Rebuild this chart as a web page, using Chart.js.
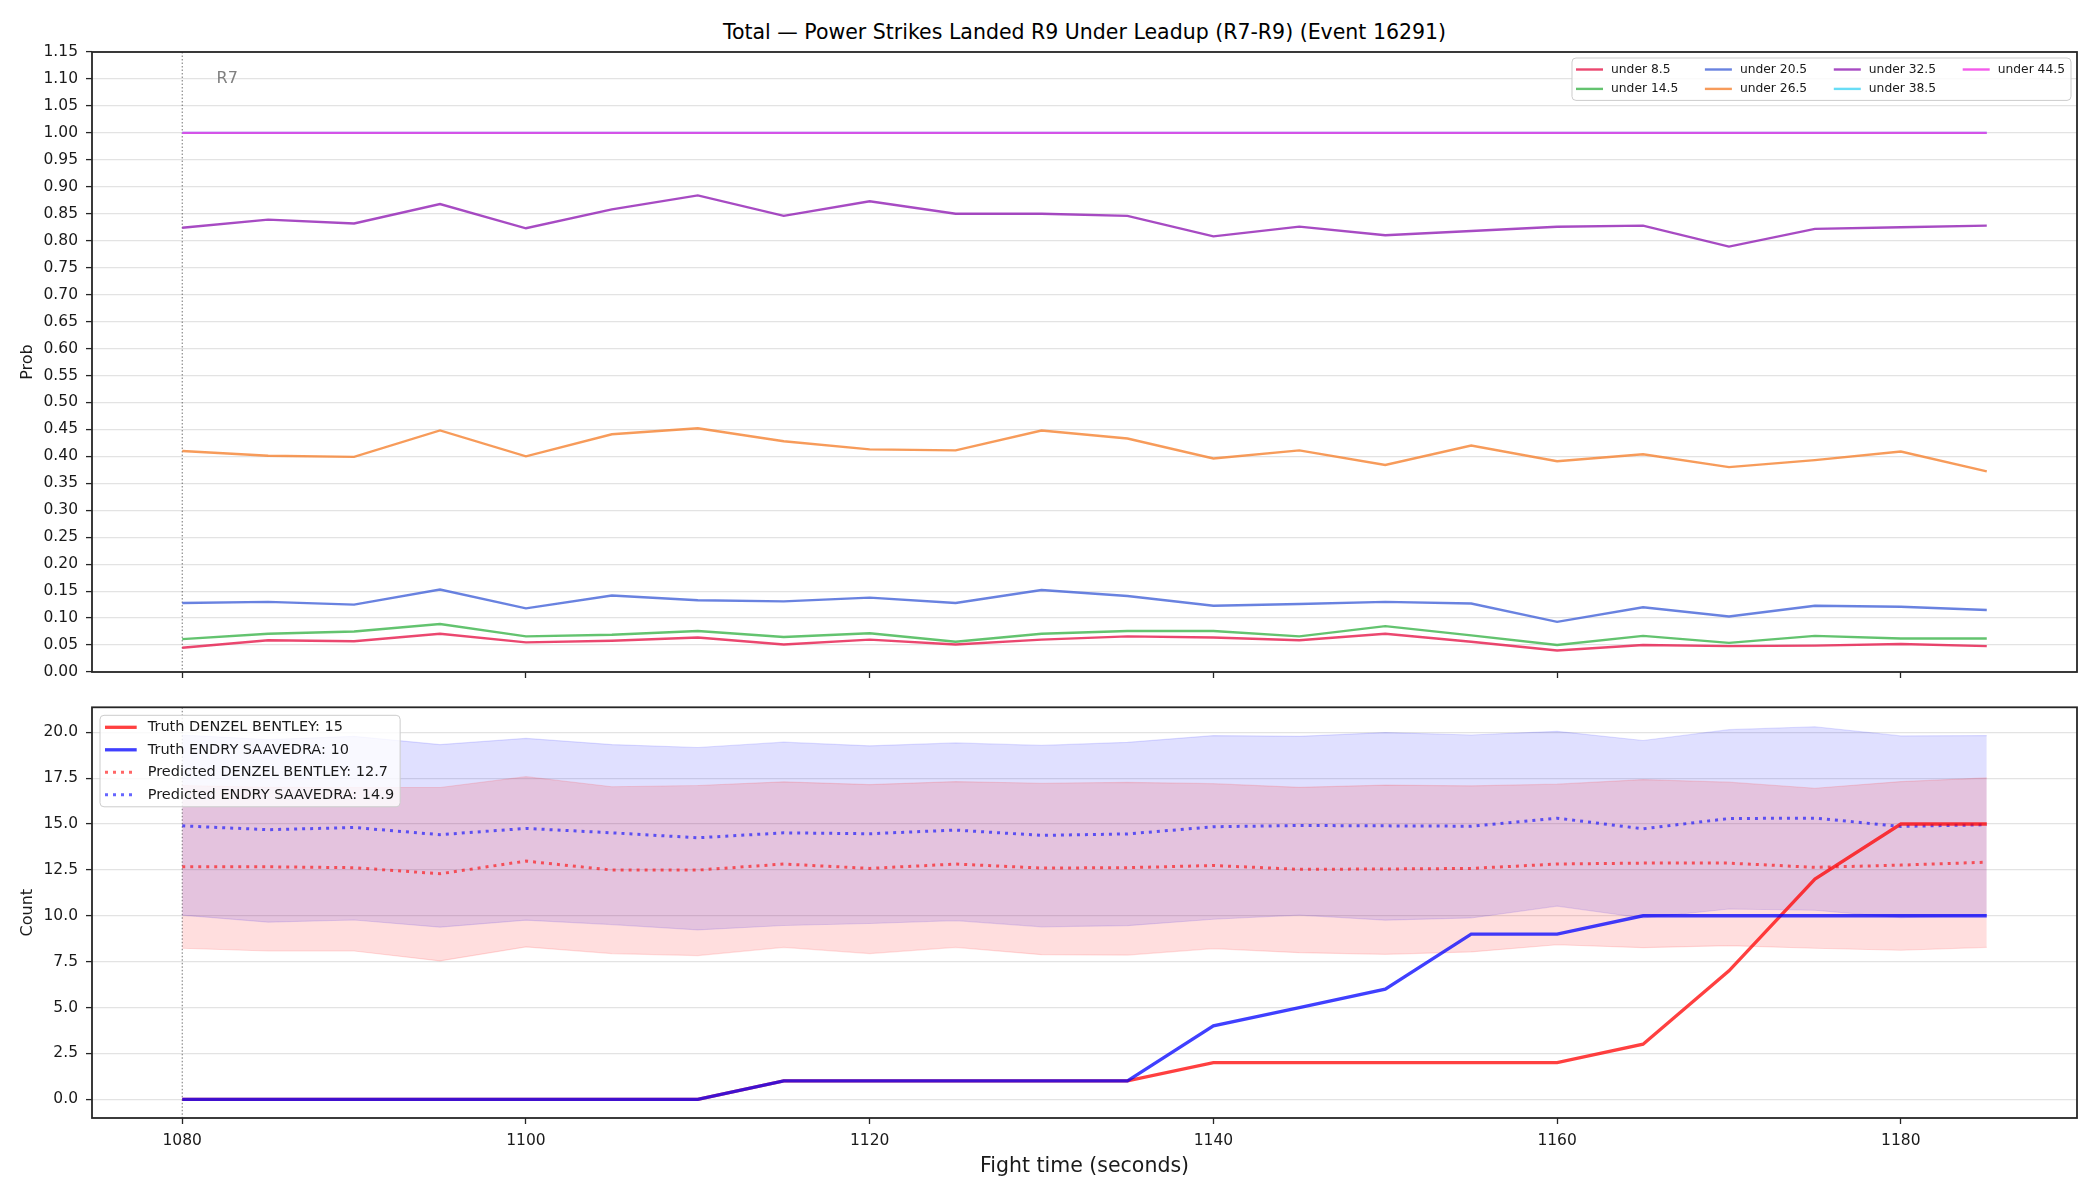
<!DOCTYPE html>
<html>
<head>
<meta charset="utf-8">
<script src="https://cdn.jsdelivr.net/npm/chart.js@4.4.1/dist/chart.umd.min.js"></script>
<style>
  html, body { margin: 0; padding: 0; background: #fff; }
  #page { position: relative; width: 2100px; height: 1200px; overflow: hidden; font-family: "DejaVu Sans", sans-serif; }
  #title { position: absolute; left: 92px; width: 1985px; top: 19px; text-align: center; font-size: 20.5px; line-height: 26px; color: #000; }
  canvas { position: absolute; left: 0; }
</style>
</head>
<body>
<div id="page">
  <div id="title">Total — Power Strikes Landed R9 Under Leadup (R7-R9) (Event 16291)</div>
  <canvas id="probChart" width="2100" height="690" style="top:0"></canvas>
  <canvas id="countChart" width="2100" height="510" style="top:690px"></canvas>
</div>
<script>
// fight time of each sample (seconds)
const timeSec = [1080, 1085, 1090, 1095, 1100, 1105, 1110, 1115, 1120, 1125, 1130,
                 1135, 1140, 1145, 1150, 1155, 1160, 1165, 1170, 1175, 1180, 1185];

// top panel: probability of the total staying under each line
const probLabels = ['under 8.5', 'under 14.5', 'under 20.5', 'under 26.5', 'under 32.5', 'under 38.5', 'under 44.5'];
const under8_5  = [0.045, 0.059, 0.057, 0.071, 0.055, 0.058, 0.064, 0.051, 0.060, 0.051, 0.060,
                   0.066, 0.064, 0.059, 0.071, 0.056, 0.040, 0.050, 0.048, 0.049, 0.052, 0.048];
const under14_5 = [0.061, 0.071, 0.075, 0.089, 0.066, 0.069, 0.076, 0.065, 0.072, 0.056, 0.071,
                   0.076, 0.076, 0.066, 0.085, 0.068, 0.050, 0.067, 0.054, 0.067, 0.062, 0.062];
const under20_5 = [0.128, 0.130, 0.125, 0.153, 0.118, 0.142, 0.133, 0.131, 0.138, 0.128, 0.152,
                   0.141, 0.123, 0.126, 0.130, 0.127, 0.093, 0.120, 0.103, 0.123, 0.121, 0.115];
const under26_5 = [0.410, 0.401, 0.399, 0.448, 0.400, 0.441, 0.452, 0.428, 0.413, 0.411, 0.448,
                   0.433, 0.396, 0.411, 0.384, 0.420, 0.391, 0.404, 0.380, 0.393, 0.409, 0.372];
const under32_5 = [0.824, 0.839, 0.832, 0.868, 0.823, 0.858, 0.884, 0.846, 0.873, 0.850, 0.850,
                   0.846, 0.808, 0.826, 0.810, 0.818, 0.826, 0.828, 0.789, 0.822, 0.825, 0.828];
const under38_5 = [1.0, 1.0, 1.0, 1.0, 1.0, 1.0, 1.0, 1.0, 1.0, 1.0, 1.0,
                   1.0, 1.0, 1.0, 1.0, 1.0, 1.0, 1.0, 1.0, 1.0, 1.0, 1.0];
const under44_5 = [1.0, 1.0, 1.0, 1.0, 1.0, 1.0, 1.0, 1.0, 1.0, 1.0, 1.0,
                   1.0, 1.0, 1.0, 1.0, 1.0, 1.0, 1.0, 1.0, 1.0, 1.0, 1.0];

// bottom panel: running counts, predictions and their bands
const countLabels = ['Truth DENZEL BENTLEY: 15', 'Truth ENDRY SAAVEDRA: 10',
                     'Predicted DENZEL BENTLEY: 12.7', 'Predicted ENDRY SAAVEDRA: 14.9'];
const truthBentley  = [0, 0, 0, 0, 0, 0, 0, 1, 1, 1, 1, 1, 2, 2, 2, 2, 2, 3, 7, 12, 15, 15];
const truthSaavedra = [0, 0, 0, 0, 0, 0, 0, 1, 1, 1, 1, 1, 4, 5, 6, 9, 9, 10, 10, 10, 10, 10];
const predBentley   = [12.67, 12.67, 12.62, 12.29, 12.98, 12.49, 12.49, 12.82, 12.58, 12.82, 12.60,
                       12.62, 12.74, 12.53, 12.55, 12.58, 12.82, 12.87, 12.87, 12.64, 12.76, 12.92];
const predSaavedra  = [14.90, 14.69, 14.81, 14.42, 14.76, 14.52, 14.25, 14.52, 14.47, 14.67, 14.38,
                       14.46, 14.85, 14.92, 14.90, 14.88, 15.32, 14.74, 15.30, 15.32, 14.87, 14.96];
const bentleyHigh   = [17.10, 17.00, 16.99, 16.99, 17.58, 17.03, 17.10, 17.30, 17.15, 17.31, 17.22,
                       17.27, 17.20, 17.00, 17.12, 17.08, 17.17, 17.42, 17.28, 16.95, 17.31, 17.51];
const bentleyLow    = [8.23, 8.08, 8.08, 7.54, 8.30, 7.94, 7.83, 8.28, 7.94, 8.28, 7.88,
                       7.86, 8.21, 7.99, 7.90, 8.03, 8.42, 8.26, 8.37, 8.23, 8.12, 8.28];
const saavedraHigh  = [19.85, 19.60, 19.78, 19.33, 19.67, 19.33, 19.17, 19.46, 19.26, 19.42, 19.28,
                       19.45, 19.82, 19.78, 19.98, 19.85, 20.05, 19.55, 20.14, 20.30, 19.80, 19.82];
const saavedraLow   = [10.03, 9.65, 9.77, 9.38, 9.76, 9.52, 9.23, 9.47, 9.58, 9.74, 9.40,
                       9.46, 9.81, 10.04, 9.76, 9.88, 10.53, 9.88, 10.37, 10.30, 9.90, 10.03];

// round markers
const roundTimes = [1080];
const roundNames = ['R7'];

// tick labels
const timeTicks = [1080, 1100, 1120, 1140, 1160, 1180];
const probTicks = [0, 0.05, 0.10, 0.15, 0.20, 0.25, 0.30, 0.35, 0.40, 0.45, 0.50, 0.55,
                   0.60, 0.65, 0.70, 0.75, 0.80, 0.85, 0.90, 0.95, 1.00, 1.05, 1.10, 1.15];
const countTicks = [0, 2.5, 5, 7.5, 10, 12.5, 15, 17.5, 20];

const probColors = ['rgba(230,25,75,0.8)', 'rgba(60,180,75,0.8)', 'rgba(67,99,216,0.8)',
                    'rgba(245,130,49,0.8)', 'rgba(145,30,180,0.8)', 'rgba(66,212,244,0.8)',
                    'rgba(240,50,230,0.8)'];

Chart.defaults.font.family = '"DejaVu Sans", sans-serif';
Chart.defaults.color = '#1a1a1a';

const pts = vals => timeSec.map((t, k) => ({ x: t, y: vals[k] }));

// box around the plot area
const frame = {
    id: 'frame',
    afterDatasetsDraw(chart) {
        const { ctx, chartArea: a } = chart;
        ctx.save();
        ctx.strokeStyle = '#262626';
        ctx.lineWidth = 1.8;
        ctx.strokeRect(a.left, a.top, a.right - a.left, a.bottom - a.top);
        ctx.restore();
    }
};

// dotted round start line (+ label on the top panel)
const roundMarker = {
    id: 'roundMarker',
    beforeDatasetsDraw(chart, args, opts) {
        const { ctx, chartArea: a, scales } = chart;
        ctx.save();
        roundTimes.forEach((t, i) => {
            const x = scales.x.getPixelForValue(t);
            ctx.strokeStyle = 'rgba(0,0,0,0.55)';
            ctx.lineWidth = 1;
            ctx.setLineDash([1.5, 2]);
            ctx.beginPath();
            ctx.moveTo(x, a.top);
            ctx.lineTo(x, a.bottom);
            ctx.stroke();
            if (opts.showLabel) {
                ctx.fillStyle = '#808080';
                ctx.font = '16px "DejaVu Sans"';
                ctx.textAlign = 'left';
                ctx.textBaseline = 'middle';
                ctx.fillText(roundNames[i], scales.x.getPixelForValue(t + 2), scales.y.getPixelForValue(1.1));
            }
        });
        ctx.restore();
    }
};

// matplotlib-like legend box inside the axes, filled column by column
const boxLegend = {
    id: 'boxLegend',
    afterDraw(chart, args, o) {
        const { ctx, chartArea: a } = chart;
        const items = chart.data.datasets.filter(d => d.label && !d.hideInLegend);
        const rows = o.rows, cols = Math.ceil(items.length / rows);
        ctx.save();
        ctx.font = o.fontSize + 'px "DejaVu Sans"';
        const colW = [];
        for (let c = 0; c < cols; c++) {
            let w = 0;
            for (let r = 0; r < rows; r++) {
                const d = items[c * rows + r];
                if (d) w = Math.max(w, ctx.measureText(d.label).width);
            }
            colW.push(w);
        }
        const textOff = o.handleLen + o.handleGap;
        let width = o.padX + o.padEnd;
        colW.forEach((w, c) => { width += textOff + w + (c < cols - 1 ? o.colGap : 0); });
        const height = o.firstRow * 2 + (rows - 1) * o.rowH;
        const left = o.anchor === 'ne' ? a.right - o.inset - width : a.left + o.inset;
        const top = a.top + o.inset;

        ctx.beginPath();
        if (ctx.roundRect) ctx.roundRect(left, top, width, height, 4);
        else ctx.rect(left, top, width, height);
        ctx.fillStyle = 'rgba(255,255,255,0.8)';
        ctx.fill();
        ctx.lineWidth = 1;
        ctx.strokeStyle = '#cccccc';
        ctx.stroke();

        let x = left + o.padX;
        for (let c = 0; c < cols; c++) {
            for (let r = 0; r < rows; r++) {
                const d = items[c * rows + r];
                if (!d) continue;
                const y = top + o.firstRow + r * o.rowH;
                ctx.save();
                ctx.strokeStyle = d.borderColor;
                ctx.lineWidth = d.borderWidth;
                ctx.setLineDash(d.borderDash || []);
                ctx.beginPath();
                ctx.moveTo(x, y);
                ctx.lineTo(x + o.handleLen, y);
                ctx.stroke();
                ctx.restore();
                ctx.fillStyle = '#1a1a1a';
                ctx.textAlign = 'left';
                ctx.textBaseline = 'middle';
                ctx.fillText(d.label, x + textOff, y);
            }
            x += textOff + colW[c] + o.colGap;
        }
        ctx.restore();
    }
};

function timeAxis(withLabels) {
    return {
        type: 'linear',
        min: 1074.75,
        max: 1190.25,
        bounds: 'data',
        afterBuildTicks: s => { s.ticks = timeTicks.map(v => ({ value: v })); },
        afterFit: s => { s.height = withLabels ? 82 : 18; },
        grid: { drawOnChartArea: false, drawTicks: true, tickLength: 6, tickColor: '#262626', tickWidth: 1.3 },
        border: { display: false },
        ticks: {
            display: withLabels, autoSkip: false, maxRotation: 0, padding: 7.5,
            font: { size: 15.5 }, color: '#1a1a1a', callback: v => String(v)
        },
        title: {
            display: withLabels, text: 'Fight time (seconds)', color: '#1a1a1a',
            font: { size: 20.5 }, padding: { top: 0, bottom: 21.5 }
        }
    };
}

function valueAxis(min, max, tickVals, digits, label) {
    return {
        type: 'linear',
        min: min,
        max: max,
        bounds: 'data',
        afterBuildTicks: s => { s.ticks = tickVals.map(v => ({ value: v })); },
        afterFit: s => { s.width = 92; },
        grid: { color: '#e3e3e3', lineWidth: 1.2, tickColor: '#262626', tickLength: 6, tickWidth: 1.3 },
        border: { display: false },
        ticks: { autoSkip: false, padding: 8, font: { size: 15.5 }, color: '#1a1a1a', callback: v => v.toFixed(digits) },
        title: { display: true, text: label, color: '#1a1a1a', font: { size: 16 }, padding: { top: 18.4, bottom: 0 } }
    };
}

const probSeries = [under8_5, under14_5, under20_5, under26_5, under32_5, under38_5, under44_5];

new Chart(document.getElementById('probChart'), {
    type: 'line',
    data: {
        datasets: probSeries.map((vals, i) => ({
            label: probLabels[i],
            data: pts(vals),
            borderColor: probColors[i],
            backgroundColor: probColors[i],
            borderWidth: 2.4,
            pointRadius: 0,
            tension: 0,
            fill: false,
            order: -i
        }))
    },
    options: {
        responsive: false,
        animation: false,
        devicePixelRatio: 1,
        events: [],
        layout: { padding: { left: 0, right: 23, top: 52, bottom: 0 } },
        scales: {
            x: timeAxis(false),
            y: valueAxis(0, 1.15, probTicks, 2, 'Prob')
        },
        plugins: {
            legend: { display: false },
            tooltip: { enabled: false },
            roundMarker: { showLabel: true },
            boxLegend: {
                anchor: 'ne', rows: 2, fontSize: 12.3, inset: 6, padX: 4, padEnd: 6,
                handleLen: 27, handleGap: 8, colGap: 26.6, firstRow: 11.5, rowH: 19.4
            }
        }
    },
    plugins: [roundMarker, frame, boxLegend]
});

new Chart(document.getElementById('countChart'), {
    type: 'line',
    data: {
        datasets: [
            { label: countLabels[0], data: pts(truthBentley), borderColor: 'rgba(255,0,0,0.75)', borderWidth: 3.3, order: 2 },
            { label: countLabels[1], data: pts(truthSaavedra), borderColor: 'rgba(0,0,255,0.75)', borderWidth: 3.3, order: 1 },
            { label: countLabels[2], data: pts(predBentley), borderColor: 'rgba(255,0,0,0.6)', borderWidth: 3, borderDash: [3, 5], order: 4 },
            { label: countLabels[3], data: pts(predSaavedra), borderColor: 'rgba(0,0,255,0.6)', borderWidth: 3, borderDash: [3, 5], order: 3 },
            { hideInLegend: true, data: pts(bentleyHigh), borderColor: 'rgba(255,0,0,0.13)', borderWidth: 1.2,
              fill: '+1', backgroundColor: 'rgba(255,0,0,0.13)', order: 6 },
            { hideInLegend: true, data: pts(bentleyLow), borderColor: 'rgba(255,0,0,0.13)', borderWidth: 1.2, order: 6 },
            { hideInLegend: true, data: pts(saavedraHigh), borderColor: 'rgba(0,0,255,0.12)', borderWidth: 1.2,
              fill: '+1', backgroundColor: 'rgba(0,0,255,0.12)', order: 7 },
            { hideInLegend: true, data: pts(saavedraLow), borderColor: 'rgba(0,0,255,0.12)', borderWidth: 1.2, order: 7 }
        ].map(d => Object.assign({ pointRadius: 0, tension: 0, fill: false }, d))
    },
    options: {
        responsive: false,
        animation: false,
        devicePixelRatio: 1,
        events: [],
        layout: { padding: { left: 0, right: 23, top: 13, bottom: 0 } },
        scales: {
            x: timeAxis(true),
            y: valueAxis(-1.02, 21.36, countTicks, 1, 'Count')
        },
        plugins: {
            legend: { display: false },
            tooltip: { enabled: false },
            roundMarker: { showLabel: false },
            boxLegend: {
                anchor: 'nw', rows: 4, fontSize: 14.5, inset: 8, padX: 5, padEnd: 6,
                handleLen: 31.7, handleGap: 11, colGap: 0, firstRow: 12, rowH: 22.5
            }
        }
    },
    plugins: [roundMarker, frame, boxLegend]
});
</script>
</body>
</html>
